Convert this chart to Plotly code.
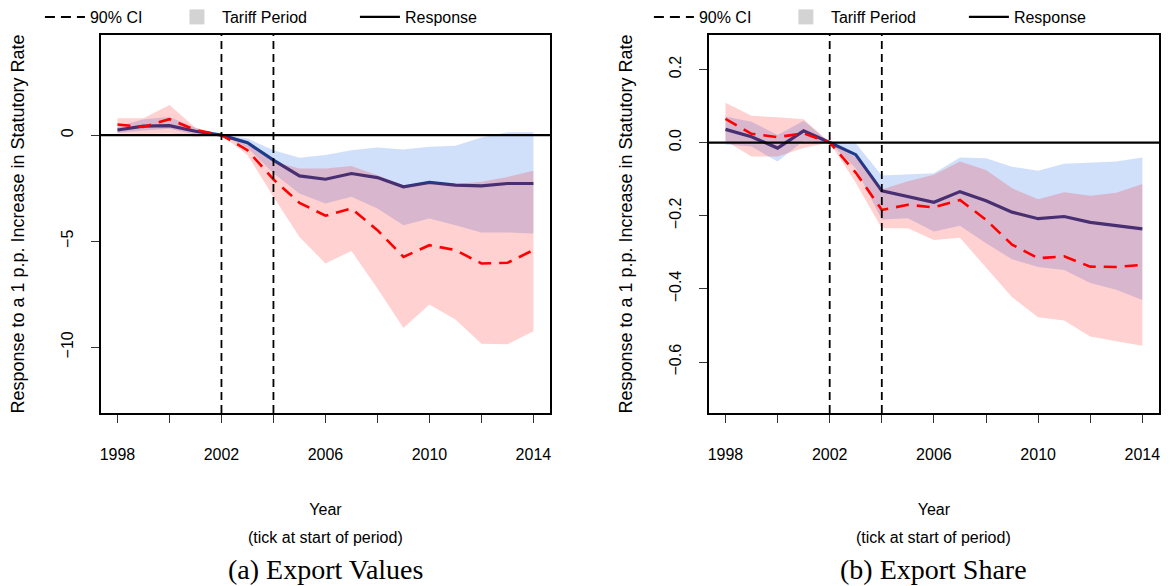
import plotly.graph_objects as go
from plotly.subplots import make_subplots

# x-axis: year (tick at start of period)
years = list(range(1998, 2015))
tariff_start = 2002
tariff_end = 2004

# (a) export values: response, blue band
val_resp = [0.24, 0.42, 0.45, 0.18, 0.0, -0.36, -1.18, -1.92, -2.08, -1.81, -2.0, -2.44, -2.23, -2.36, -2.39, -2.28, -2.28]
val_resp_hi = [0.39, 0.75, 0.86, 0.35, 0.0, -0.16, -0.71, -1.07, -0.94, -0.71, -0.58, -0.68, -0.55, -0.5, -0.11, 0.13, 0.13]
val_resp_lo = [0.1, 0.22, 0.3, 0.02, 0.0, -0.6, -1.8, -2.75, -3.22, -2.91, -3.46, -4.25, -3.93, -4.25, -4.59, -4.59, -4.64]
# (a) dashed red estimate and its band
val_alt = [0.5, 0.39, 0.75, 0.24, 0.0, -0.71, -2.09, -3.19, -3.8, -3.46, -4.48, -5.74, -5.19, -5.42, -6.05, -6.02, -5.42]
val_alt_hi = [0.79, 0.79, 1.42, 0.35, 0.0, -0.47, -1.25, -1.57, -1.57, -1.45, -1.89, -2.36, -2.28, -2.3, -2.2, -1.97, -1.68]
val_alt_lo = [0.08, 0.05, 0.08, -0.08, 0.0, -0.94, -2.91, -4.8, -6.05, -5.46, -7.23, -9.09, -7.99, -8.69, -9.83, -9.86, -9.25]

# (b) export share
shr_resp = [0.036, 0.016, -0.015, 0.032, 0.0, -0.033, -0.132, -0.147, -0.163, -0.134, -0.159, -0.19, -0.208, -0.202, -0.218, -0.227, -0.236]
shr_resp_hi = [0.071, 0.057, 0.021, 0.06, 0.0, -0.002, -0.09, -0.088, -0.084, -0.041, -0.043, -0.066, -0.077, -0.058, -0.056, -0.052, -0.041]
shr_resp_lo = [-0.005, -0.011, -0.052, 0.005, 0.0, -0.07, -0.21, -0.207, -0.243, -0.227, -0.275, -0.319, -0.34, -0.348, -0.384, -0.402, -0.43]
shr_alt = [0.065, 0.024, 0.015, 0.025, 0.0, -0.082, -0.184, -0.17, -0.177, -0.157, -0.211, -0.279, -0.316, -0.311, -0.339, -0.34, -0.334]
shr_alt_hi = [0.109, 0.073, 0.069, 0.064, 0.0, -0.04, -0.128, -0.106, -0.088, -0.052, -0.075, -0.125, -0.155, -0.136, -0.145, -0.137, -0.113]
shr_alt_lo = [0.005, -0.038, -0.038, -0.015, 0.0, -0.11, -0.234, -0.234, -0.266, -0.26, -0.343, -0.423, -0.477, -0.486, -0.53, -0.543, -0.555]

captions = ["(a) Export Values", "(b) Export Share"]
ytitle = "Response to a 1 p.p. Increase in Statutory Rate"
xtitle = "Year"
xsubtitle = "(tick at start of period)"

BLUE_BAND = "rgba(100,149,237,0.3)"
RED_BAND = "rgba(255,0,0,0.18)"
NAVY = "#1f3a8a"
SANS = "Liberation Sans, Arial, sans-serif"

fig = make_subplots(rows=1, cols=2)


def add_panel(col, resp, resp_lo, resp_hi, alt, alt_lo, alt_hi):
    band_x = years + years[::-1]
    fig.add_trace(go.Scatter(x=band_x, y=resp_hi + resp_lo[::-1], fill="toself",
                             fillcolor=BLUE_BAND, line=dict(width=0), mode="lines",
                             showlegend=False, hoverinfo="skip"), row=1, col=col)
    fig.add_trace(go.Scatter(x=years, y=resp, mode="lines", line=dict(color=NAVY, width=3.2),
                             showlegend=False), row=1, col=col)
    fig.add_trace(go.Scatter(x=band_x, y=alt_hi + alt_lo[::-1], fill="toself",
                             fillcolor=RED_BAND, line=dict(width=0), mode="lines",
                             showlegend=False, hoverinfo="skip"), row=1, col=col)
    fig.add_trace(go.Scatter(x=years, y=alt, mode="lines",
                             line=dict(color="red", width=2.6, dash="13px,8px"),
                             showlegend=False), row=1, col=col)
    for yr in (tariff_start, tariff_end):
        fig.add_vline(x=yr, line=dict(color="black", width=1.8, dash="8px,5px"), row=1, col=col)
    fig.add_hline(y=0, line=dict(color="black", width=2.2), row=1, col=col)

    # legend entries
    lg = "legend" if col == 1 else "legend2"
    fig.add_trace(go.Scatter(x=[None], y=[None], mode="lines", name="90% CI", legend=lg,
                             legendwidth=77,
                             line=dict(color="black", width=2, dash="10px,6px")), row=1, col=col)
    fig.add_trace(go.Scatter(x=[None], y=[None], mode="markers", name="Tariff Period", legend=lg,
                             legendwidth=128,
                             marker=dict(color="#d3d3d3", symbol="square", size=15)), row=1, col=col)
    fig.add_trace(go.Scatter(x=[None], y=[None], mode="lines", name="Response", legend=lg,
                             line=dict(color="black", width=2.2)), row=1, col=col)


add_panel(1, val_resp, val_resp_lo, val_resp_hi, val_alt, val_alt_lo, val_alt_hi)
add_panel(2, shr_resp, shr_resp_lo, shr_resp_hi, shr_alt, shr_alt_lo, shr_alt_hi)

axis_common = dict(showline=True, mirror=True, linecolor="black", linewidth=1.6,
                   ticks="outside", ticklen=8, tickwidth=1.2, tickcolor="#333",
                   showgrid=False, zeroline=False,
                   tickfont=dict(family=SANS, size=16, color="black"))

fig.update_xaxes(**axis_common, range=[1997.36, 2014.64], tick0=1998, dtick=4,
                 minor=dict(dtick=2, ticks="outside", ticklen=8, tickwidth=1.2, tickcolor="#333"),
                 ticklabelstandoff=18,
                 title=dict(text=xtitle, standoff=42,
                            font=dict(family=SANS, size=16, color="black")))
fig.update_xaxes(domain=[100 / 1172, 550 / 1172], row=1, col=1)
fig.update_xaxes(domain=[709 / 1172, 1160 / 1172], row=1, col=2)

fig.update_yaxes(**axis_common, tickangle=-90, ticklabelstandoff=12,
                 title=dict(text=ytitle, standoff=29,
                            font=dict(family=SANS, size=18, color="black")))
fig.update_yaxes(domain=[173 / 586, 551 / 586])
fig.update_yaxes(range=[-13.1, 4.72], tickvals=[0, -5, -10], ticktext=["0", "\u22125", "\u221210"],
                 row=1, col=1)
fig.update_yaxes(range=[-0.739, 0.294], tickvals=[0.2, 0.0, -0.2, -0.4, -0.6],
                 ticktext=["0.2", "0.0", "\u22120.2", "\u22120.4", "\u22120.6"], row=1, col=2)

# legends sit fully inside the page so they do not push the top margin
legend_common = dict(orientation="h", yanchor="top", y=1.0, xanchor="left",
                     bgcolor="rgba(0,0,0,0)", font=dict(family=SANS, size=16, color="black"),
                     itemwidth=40, tracegroupgap=0)
fig.update_layout(legend=dict(**legend_common, x=39 / 1172),
                  legend2=dict(**legend_common, x=649 / 1172))

panel_centres = [(100 + 550) / 2 / 1172, (709 + 1160) / 2 / 1172]
for cx, cap in zip(panel_centres, captions):
    fig.add_annotation(text=xsubtitle, x=cx, y=1 - 537 / 586, xref="paper", yref="paper",
                       showarrow=False, xanchor="center", yanchor="middle",
                       font=dict(family=SANS, size=16, color="black"))
    fig.add_annotation(text=cap, x=cx, y=1 - 569 / 586, xref="paper", yref="paper",
                       showarrow=False, xanchor="center", yanchor="middle",
                       font=dict(family="Liberation Serif, serif", size=28, color="black"))

fig.update_layout(width=1172, height=586, margin=dict(l=0, r=0, t=0, b=0),
                  plot_bgcolor="white", paper_bgcolor="white", showlegend=True)

# page body has a default margin; drop it so the figure sits at the window's corner
fig.write_html("out.html", config={"displayModeBar": False},
               post_script="document.body.style.margin='0';")
